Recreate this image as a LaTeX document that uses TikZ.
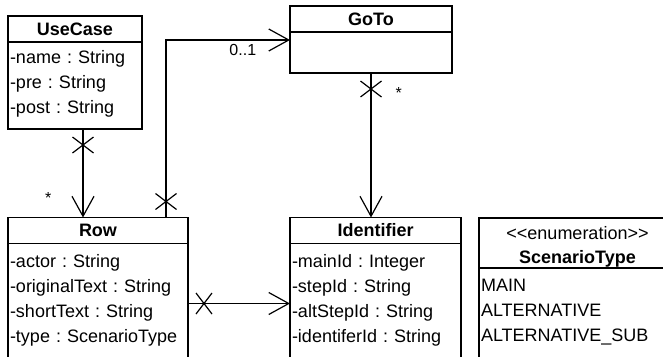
\documentclass[tikz,border=0pt]{standalone}
\usepackage{fontspec}
\setmainfont{Liberation Sans}
\usetikzlibrary{positioning,arrows.meta,decorations.markings}

\begin{document}
\frenchspacing
\begin{tikzpicture}[x=1pt,y=-1pt,line width=1.2pt,
    font=\fontsize{18}{25}\selectfont,
    classhead/.style={draw,inner sep=0pt,outer sep=0pt,minimum height=26pt,
      font=\fontsize{18}{25}\selectfont\bfseries},
    classbody/.style={draw,anchor=north,align=left,inner xsep=2pt,inner ysep=0pt,outer sep=0pt},
    nav/.style={-{Straight Barb[length=20pt,width=22pt]}},
    xend/.style={postaction={decorate,decoration={markings,
        mark=at position 16pt with {\draw[-] (-8,-10.5) -- (8,10.5) (-8,10.5) -- (8,-10.5);}}}},
    mult/.style={font=\fontsize{16}{18}\selectfont,inner sep=1pt}]
  \useasboundingbox (0,0) rectangle (663,356);
  \clip (0,0) rectangle (663,356);

  % classes
  \node[classhead,minimum width=134pt] (usecase) at (75,29) {UseCase};
  \node[classbody,below=0pt of usecase,text width=130pt,text height=21.5pt,text depth=65.5pt] (usecaseb)
    {-name : String\\-pre : String\\-post : String};
  \node[classhead,minimum width=162pt] (goto) at (371,19) {GoTo};
  \node[classbody,below=0pt of goto,text width=158pt,minimum height=41pt] (gotob) {};
  \node[classhead,minimum width=180pt] (row) at (98,230.5) {Row};
  \node[classbody,below=0pt of row,text width=176pt,text height=23.5pt,text depth=106.5pt] (rowb)
    {-actor : String\\-originalText : String\\-shortText : String\\-type : ScenarioType};
  \node[classhead,minimum width=171pt] (ident) at (375.5,230.5) {Identifier};
  \node[classbody,below=0pt of ident,text width=167pt,text height=23.5pt,text depth=106.5pt] (identb)
    {-mainId : Integer\\-stepId : String\\-altStepId : String\\-identiferId : String};
  \node[classhead,minimum width=197pt,minimum height=50pt,align=center,
    font=\fontsize{18}{24}\selectfont] (scen) at (577.5,243)
    {\rule{0pt}{21pt}<{}<enumeration>{}>\\\textbf{ScenarioType}};
  \node[classbody,below=0pt of scen,text width=193pt,text height=23.5pt,text depth=81.5pt] (scenb)
    {MAIN\\ALTERNATIVE\\ALTERNATIVE\_SUB};

  % associations
  \path ([xshift=8pt]usecaseb.south) coordinate (uc1);
  \draw[nav,xend] (uc1) -- (uc1 |- row.north)
    node[mult,pos=0.75,anchor=east,xshift=-30pt,yshift=-3pt] (m1) {*};
  \path ([xshift=68pt]row.north) coordinate (rg1);
  \path ([yshift=12.5pt]gotob.west) coordinate (rg2);
  \draw[nav,xend] (rg1) |- (rg2)
    node[mult,pos=0.87,anchor=north east,yshift=-3pt] (m2) {0..1};
  \draw[nav,xend] (gotob.south) -- (gotob.south |- ident.north)
    node[mult,pos=0.12,anchor=west,xshift=23pt,yshift=-3pt] (m3) {*};
  \path ([yshift=5pt]rowb.east) coordinate (ri1);
  \draw[nav,xend] (ri1) -- (ri1 -| identb.west);
\end{tikzpicture}
\end{document}
